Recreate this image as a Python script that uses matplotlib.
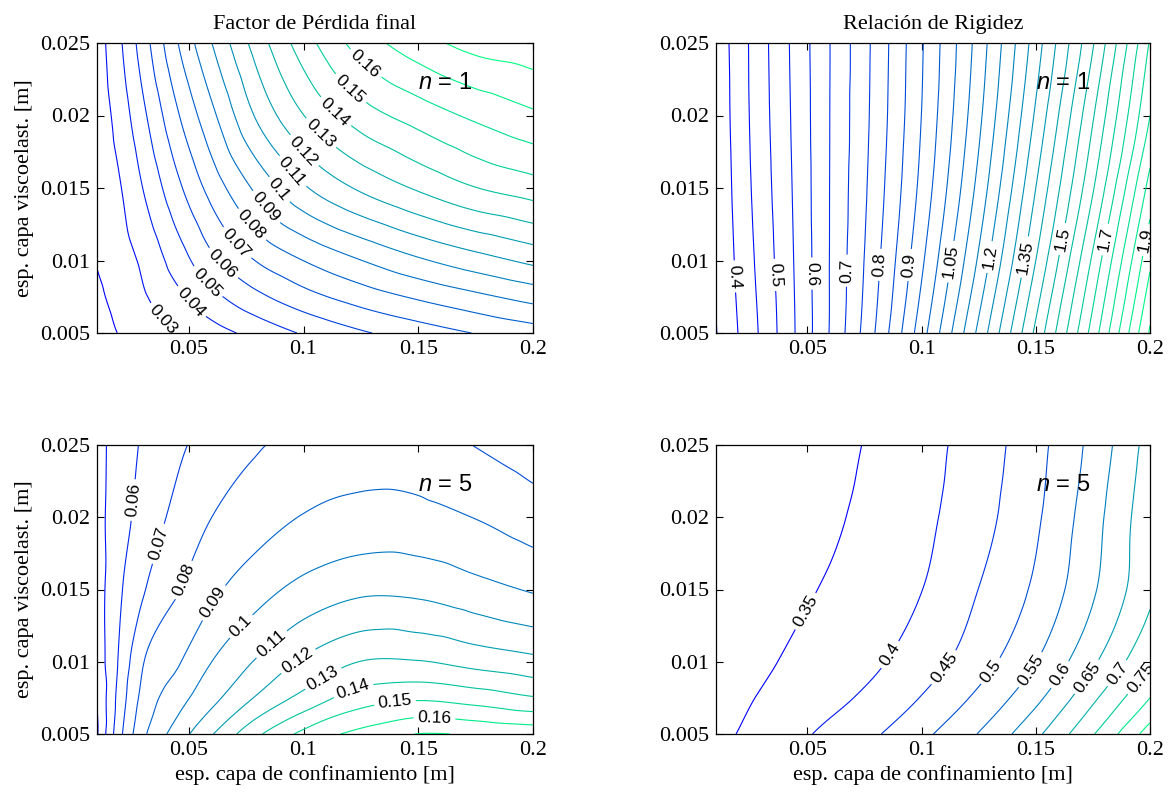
import numpy as np
import matplotlib
matplotlib.use('Agg')
import matplotlib.pyplot as plt
import matplotlib.tri as mtri

plt.rcParams['font.family'] = 'Liberation Serif'
plt.rcParams['mathtext.fontset'] = 'custom'
plt.rcParams['mathtext.rm'] = 'Liberation Sans'
plt.rcParams['mathtext.it'] = 'Liberation Sans:italic'

# espesor capa de confinamiento [m] (columnas) y capa viscoelastica [m] (filas)
x_conf = [0.01, 0.02, 0.03, 0.045, 0.06, 0.08, 0.1, 0.125, 0.15, 0.175, 0.2]
y_visc = [0.005, 0.0075, 0.01, 0.015, 0.02, 0.025]
y_visc_b = [0.005, 0.01, 0.015, 0.02, 0.025]

# factor de perdida, n = 1
eta_n1 = [[0.015, 0.0206, 0.0243, 0.030, 0.0358, 0.0435, 0.051, 0.0587, 0.0647, 0.0704, 0.0752],
          [0.018, 0.0235, 0.0288, 0.0376, 0.0472, 0.0578, 0.0663, 0.0746, 0.0815, 0.0877, 0.0936],
          [0.0205, 0.0256, 0.0318, 0.0448, 0.0577, 0.0707, 0.0801, 0.0898, 0.0985, 0.1058, 0.1124],
          [0.022, 0.0294, 0.0401, 0.0575, 0.0738, 0.0925, 0.1086, 0.1216, 0.1313, 0.1397, 0.1451],
          [0.0235, 0.0343, 0.0477, 0.0688, 0.0875, 0.1117, 0.1298, 0.1451, 0.1543, 0.162, 0.1682],
          [0.025, 0.0386, 0.0549, 0.0795, 0.0999, 0.1248, 0.1452, 0.1643, 0.1758, 0.1837, 0.187]]

# relacion de rigidez, n = 1
stiff_n1 = [[0.348, 0.4022, 0.459, 0.5525, 0.6537, 0.8035, 0.9784, 1.2127, 1.4617, 1.7219, 2.007],
            [0.352, 0.4119, 0.4681, 0.5561, 0.6524, 0.7864, 0.9407, 1.1574, 1.40, 1.66, 1.94],
            [0.357, 0.419, 0.4756, 0.5598, 0.6517, 0.775, 0.9146, 1.1161, 1.35, 1.595, 1.87],
            [0.362, 0.4235, 0.4806, 0.5632, 0.6511, 0.7678, 0.9007, 1.0879, 1.308, 1.545, 1.80],
            [0.3665, 0.4253, 0.4833, 0.566, 0.6505, 0.7649, 0.8949, 1.0712, 1.2754, 1.4957, 1.755]]

# factor de perdida, n = 5
eta_n5 = [[0.039, 0.0674, 0.0876, 0.1045, 0.1193, 0.1383, 0.1525, 0.163, 0.1702, 0.1688, 0.1667],
          [0.0403, 0.0642, 0.0829, 0.0959, 0.1069, 0.1213, 0.133, 0.145, 0.1485, 0.1455, 0.1408],
          [0.0437, 0.0617, 0.0794, 0.0888, 0.100, 0.1112, 0.1216, 0.1302, 0.1305, 0.1266, 0.123],
          [0.0453, 0.0587, 0.069, 0.0793, 0.0878, 0.0962, 0.103, 0.108, 0.1075, 0.1035, 0.099],
          [0.0467, 0.0558, 0.0637, 0.0727, 0.080, 0.0857, 0.0905, 0.0932, 0.093, 0.0897, 0.0849],
          [0.0469, 0.0544, 0.0612, 0.0684, 0.0732, 0.0792, 0.0828, 0.0855, 0.0848, 0.0797, 0.075]]

# relacion de rigidez, n = 5
stiff_n5 = [[0.34, 0.3515, 0.3664, 0.3888, 0.4124, 0.4455, 0.4878, 0.5522, 0.6388, 0.7465, 0.8735],
            [0.331, 0.3422, 0.3533, 0.370, 0.3866, 0.4147, 0.4523, 0.5111, 0.5875, 0.6899, 0.80],
            [0.325, 0.3327, 0.3429, 0.3582, 0.3735, 0.3939, 0.4262, 0.4791, 0.5488, 0.6419, 0.745],
            [0.318, 0.325, 0.332, 0.3426, 0.355, 0.3772, 0.3993, 0.4506, 0.5093, 0.5938, 0.69],
            [0.316, 0.321, 0.3265, 0.334, 0.343, 0.3655, 0.3887, 0.4324, 0.4924, 0.581, 0.684],
            [0.315, 0.3185, 0.3225, 0.329, 0.337, 0.357, 0.3827, 0.4238, 0.4835, 0.5656, 0.67]]

lev_eta_n1 = np.round(np.arange(0.02, 0.185, 0.01), 3)
lev_stiff_n1 = np.round(np.arange(0.35, 2.025, 0.05), 3)
lev_eta_n5 = np.round(np.arange(0.04, 0.175, 0.01), 3)
lev_stiff_n5 = np.round(np.arange(0.35, 0.875, 0.05), 3)

lab_eta_n1 = [0.03, 0.04, 0.05, 0.06, 0.07, 0.08, 0.09, 0.1, 0.11, 0.12, 0.13, 0.14, 0.15, 0.16]
lab_stiff_n1 = [0.4, 0.5, 0.6, 0.7, 0.8, 0.9, 1.05, 1.2, 1.35, 1.5, 1.7, 1.9]
lab_eta_n5 = [0.06, 0.07, 0.08, 0.09, 0.1, 0.11, 0.12, 0.13, 0.14, 0.15, 0.16]
lab_stiff_n5 = [0.35, 0.4, 0.45, 0.5, 0.55, 0.6, 0.65, 0.7, 0.75]

# donde van las etiquetas de las curvas (una por curva etiquetada)
pos_eta_n1 = [(0.0402, 0.00612), (0.0504, 0.00705), (0.0576, 0.00843), (0.0642, 0.00969),
              (0.0700, 0.01107), (0.0765, 0.01233), (0.0831, 0.0136), (0.0871, 0.01459),
              (0.0918, 0.01569), (0.0976, 0.01719), (0.1063, 0.01857), (0.1128, 0.02006),
              (0.1194, 0.02167), (0.1259, 0.02339)]
pos_stiff_n1 = [(0.0179, 0.0089), (0.0354, 0.0090), (0.0522, 0.0091), (0.0675, 0.0093),
                (0.0817, 0.0097), (0.0941, 0.0097), (0.1136, 0.0099), (0.1292, 0.01025),
                (0.1448, 0.01025), (0.1610, 0.0115), (0.1787, 0.0115), (0.1950, 0.0115)]
pos_eta_n5 = [(0.0251, 0.0212), (0.036, 0.0182), (0.0477, 0.01566), (0.0601, 0.01416),
              (0.0715, 0.01266), (0.0851, 0.01139), (0.0968, 0.01024), (0.1080, 0.0090),
              (0.1217, 0.00805), (0.1399, 0.00712), (0.1570, 0.00597)]
pos_stiff_n5 = [(0.0508, 0.01335), (0.0876, 0.01035), (0.1113, 0.00943), (0.1317, 0.0092),
                (0.1489, 0.00931), (0.1619, 0.00897), (0.1742, 0.00874), (0.1856, 0.0092),
                (0.1954, 0.00897)]


def smooth_tri(xs, ys, z):
    xs = np.asarray(xs); ys = np.asarray(ys); z = np.asarray(z, dtype=float)
    nx, ny = len(xs), len(ys)
    u, v = np.meshgrid((xs - xs[0]) / (xs[-1] - xs[0]), (ys - ys[0]) / (ys[-1] - ys[0]))
    tris = []
    for j in range(ny - 1):
        for i in range(nx - 1):
            a = j * nx + i
            tris.append([a, a + 1, a + nx + 1])
            tris.append([a, a + nx + 1, a + nx])
    tri = mtri.Triangulation(u.ravel(), v.ravel(), tris)
    interp = mtri.CubicTriInterpolator(tri, z.ravel(), kind='geom')
    tri_f, z_f = mtri.UniformTriRefiner(tri).refine_field(z.ravel(), triinterpolator=interp, subdiv=4)
    tri_d = mtri.Triangulation(xs[0] + tri_f.x * (xs[-1] - xs[0]),
                               ys[0] + tri_f.y * (ys[-1] - ys[0]), tri_f.triangles)
    return tri_d, z_f


fig = plt.figure(figsize=(11.7, 7.96), dpi=100)
W, H = 1170.0, 796.0
ax1 = fig.add_axes([97 / W, 1 - 333 / H, 436 / W, 290 / H])
ax2 = fig.add_axes([716 / W, 1 - 333 / H, 434 / W, 290 / H])
ax3 = fig.add_axes([97 / W, 1 - 734 / H, 436 / W, 289 / H])
ax4 = fig.add_axes([716 / W, 1 - 734 / H, 434 / W, 289 / H])

panels = [(ax1, y_visc, eta_n1, lev_eta_n1, lab_eta_n1, pos_eta_n1, 1),
          (ax2, y_visc_b, stiff_n1, lev_stiff_n1, lab_stiff_n1, pos_stiff_n1, 1),
          (ax3, y_visc, eta_n5, lev_eta_n5, lab_eta_n5, pos_eta_n5, 5),
          (ax4, y_visc, stiff_n5, lev_stiff_n5, lab_stiff_n5, pos_stiff_n5, 5)]

for ax, ys, z, levels, labs, pos, n in panels:
    ax.set_xlim(0.01, 0.2)
    ax.set_ylim(0.005, 0.025)
    tri_d, z_f = smooth_tri(x_conf, ys, z)
    norm = plt.Normalize(levels[0], levels[-1])
    is_lab = np.array([np.any(np.isclose(lv, labs)) for lv in levels])
    ax.tricontour(tri_d, z_f, levels=levels[~is_lab], cmap='winter', norm=norm, linewidths=0.8)
    cs = ax.tricontour(tri_d, z_f, levels=levels[is_lab], cmap='winter', norm=norm, linewidths=0.8)
    with plt.rc_context({'font.family': 'Liberation Sans'}):
        ax.clabel(cs, manual=pos, fmt=lambda v: '%g' % v,
                  fontsize=12.5, colors='k', inline=True, inline_spacing=4)
    ax.text(0.15, 0.0218, r'$n$ = %d' % n, fontsize=17, family='Liberation Sans')
    ax.set_xticks([0.05, 0.1, 0.15, 0.2], ['0.05', '0.1', '0.15', '0.2'])
    ax.set_yticks([0.005, 0.01, 0.015, 0.02, 0.025], ['0.005', '0.01', '0.015', '0.02', '0.025'])
    ax.tick_params(direction='in', top=True, right=True, length=5, width=0.8,
                   labelsize=16, pad=5)
    for sp in ax.spines.values():
        sp.set_linewidth(0.9)

ax1.set_title('Factor de Pérdida final', fontsize=16, pad=10)
ax2.set_title('Relación de Rigidez', fontsize=16, pad=10)
ax1.set_ylabel('esp. capa viscoelast. [m]', fontsize=16)
ax3.set_ylabel('esp. capa viscoelast. [m]', fontsize=16)
ax3.set_xlabel('esp. capa de confinamiento [m]', fontsize=16)
ax4.set_xlabel('esp. capa de confinamiento [m]', fontsize=16)

fig.savefig('out.png', dpi=100)
